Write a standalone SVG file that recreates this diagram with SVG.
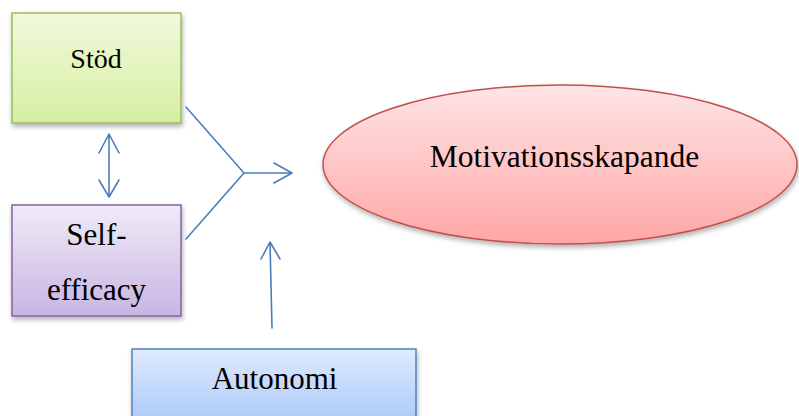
<svg xmlns="http://www.w3.org/2000/svg" width="799" height="416" viewBox="0 0 799 416">
<style>
text{font-family:'Liberation Serif','DejaVu Serif','Times New Roman',serif;fill:#000;text-anchor:middle}
.c{fill:none;stroke:#4a7ebb;stroke-width:1.6;stroke-linecap:round;stroke-linejoin:round}
</style>
<defs>
<linearGradient id="gG" x1="0" y1="0" x2="0" y2="1"><stop offset="0" stop-color="#f1f9dc"/><stop offset="1" stop-color="#d6efa1"/></linearGradient>
<linearGradient id="gP" x1="0" y1="0" x2="0" y2="1"><stop offset="0" stop-color="#f0ebf7"/><stop offset="1" stop-color="#c8b5e2"/></linearGradient>
<linearGradient id="gR" x1="0" y1="0" x2="0" y2="1"><stop offset="0" stop-color="#ffe5e6"/><stop offset="1" stop-color="#ffa6a6"/></linearGradient>
<linearGradient id="gB" x1="0" y1="0" x2="0" y2="1"><stop offset="0" stop-color="#dfeafd"/><stop offset="1" stop-color="#a6c6f8"/></linearGradient>
<filter id="sh" x="-10%" y="-10%" width="125%" height="130%"><feDropShadow dx="1" dy="3" stdDeviation="2.5" flood-color="#000" flood-opacity="0.3"/></filter>
</defs>
<g id="stod"><rect x="12" y="13" width="169" height="110" fill="url(#gG)" stroke="#9bbb59" stroke-width="1.5" filter="url(#sh)"/><text x="96" y="68" font-size="28" font-family="Liberation Serif, serif">Stöd</text></g>
<g id="selfefficacy"><rect x="12" y="205" width="169" height="111" fill="url(#gP)" stroke="#8064a2" stroke-width="1.5" filter="url(#sh)"/><text x="96.5" y="245" font-size="31" font-family="Liberation Serif, serif">Self-</text><text x="96.5" y="300" font-size="31" font-family="Liberation Serif, serif">efficacy</text></g>
<g id="motivation"><ellipse cx="560" cy="164.5" rx="237" ry="79.5" fill="url(#gR)" stroke="#c0504d" stroke-width="1.5" filter="url(#sh)"/><text x="564.5" y="167" font-size="31.5" font-family="Liberation Serif, serif">Motivationsskapande</text></g>
<g id="autonomi"><rect x="132" y="349" width="284" height="80" fill="url(#gB)" stroke="#4f81bd" stroke-width="1.5" filter="url(#sh)"/><text x="274.5" y="389" font-size="31" font-family="Liberation Serif, serif">Autonomi</text></g>
<g id="connectors">
<path class="c" d="M109 134 L109 197 M99 153 L109 134 L119 153 M99 180 L109 197 L119 180"/>
<path class="c" d="M186 107 L244 173 L186 239 M244 173 L292 173 M274 163 L292 173 L274 183"/>
<path class="c" d="M272 328 L270 242 M261 259 L270 242 L280 259"/>
</g>
</svg>
